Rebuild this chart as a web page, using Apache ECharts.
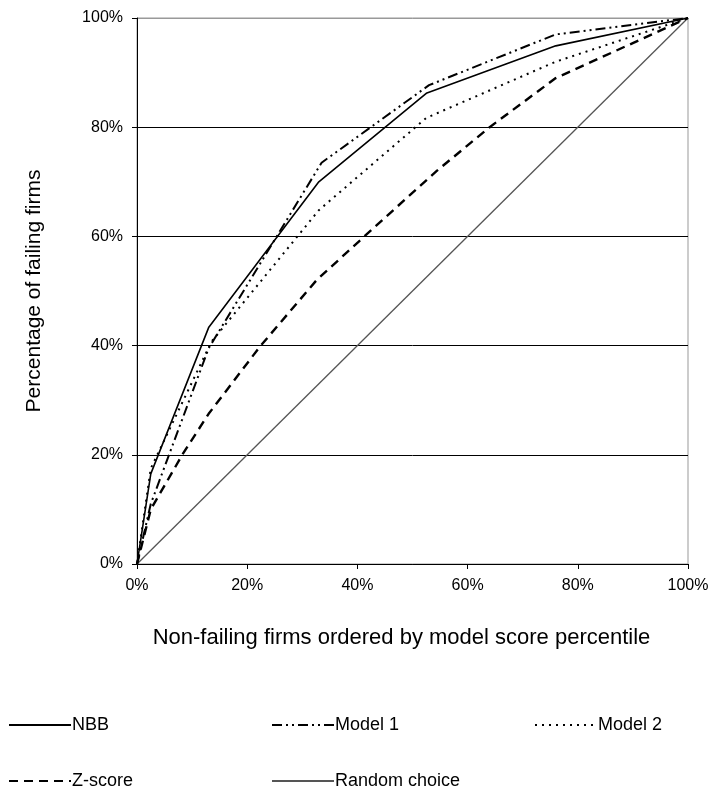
<!DOCTYPE html>
<html>
<head>
<meta charset="utf-8">
<script src="https://cdn.jsdelivr.net/npm/echarts@6/dist/echarts.min.js"></script>
<style>
html,body{margin:0;padding:0;background:#fff;}
#chart{width:717px;height:791px;}
</style>
</head>
<body>
<div id="chart"></div>
<script>
// ---- data (x = % non-failing firms, y = % failing firms) ----
var xTicks = [0, 20, 40, 60, 80, 100];
var yTicks = [0, 20, 40, 60, 80, 100];

var nbbX = [0, 2.5, 13, 33, 52.5, 76, 100];
var nbbY = [0, 16.5, 43.3, 70, 86.2, 94.9, 100];

var model1X = [0, 2.5, 13, 33.5, 53, 76, 100];
var model1Y = [0, 11, 39.5, 73.5, 87.7, 97, 100];

var model2X = [0, 2.5, 13.5, 33, 52.5, 76, 100];
var model2Y = [0, 17.5, 40.7, 64.8, 81.7, 92, 100];

var zX = [0, 2.5, 8.4, 13, 22.3, 32.6, 43, 54.4, 64, 76, 100];
var zY = [0, 10, 20.3, 27.5, 39.8, 52, 61.6, 72, 80, 89, 100];

var randX = [0, 100];
var randY = [0, 100];

function pairs(xs, ys) { return xs.map(function (x, i) { return [x, ys[i]]; }); }

var FONT = 'Liberation Sans';
var chart = echarts.init(document.getElementById('chart'), null, { renderer: 'canvas' });

function lineSeries(name, xs, ys, style) {
  return {
    name: name, type: 'line', data: pairs(xs, ys),
    symbol: 'none', showSymbol: false, animation: false, silent: true,
    itemStyle: { color: '#000' },
    lineStyle: style, z: name === 'Random choice' ? 1 : 3
  };
}

function legendAt(name, left, top) {
  return {
    data: [name], left: left, top: top, orient: 'horizontal',
    itemWidth: 62, itemHeight: 14, padding: 0, itemGap: 0,
    selectedMode: false,
    itemStyle: { opacity: 0 },
    textStyle: { fontFamily: FONT, fontSize: 18, color: '#000', padding: [0, 0, 0, -4] }
  };
}

var option = {
  backgroundColor: '#fff',
  animation: false,
  grid: { left: 137, right: 29, top: 18, bottom: 227, show: true, borderColor: '#999', borderWidth: 1, containLabel: false },
  xAxis: {
    type: 'value', min: 0, max: 100, interval: 20,
    name: 'Non-failing firms ordered by model score percentile',
    nameLocation: 'middle', nameGap: 63,
    nameTextStyle: { fontFamily: FONT, fontSize: 22, color: '#000', padding: [0, 22, 0, 0] },
    axisLine: { show: true, lineStyle: { color: '#000', width: 1 } },
    axisTick: { show: true, length: 5, inside: false, lineStyle: { color: '#000' } },
    axisLabel: { fontFamily: FONT, fontSize: 16, color: '#000', margin: 14,
      formatter: function (v) { return v + '%'; } },
    splitLine: { show: false }
  },
  yAxis: {
    type: 'value', min: 0, max: 100, interval: 20,
    name: 'Percentage of failing firms',
    nameLocation: 'middle', nameGap: 92, nameRotate: 90,
    nameTextStyle: { fontFamily: FONT, fontSize: 21, color: '#000' },
    axisLine: { show: true, lineStyle: { color: '#000', width: 1 } },
    axisTick: { show: true, length: 5, inside: false, lineStyle: { color: '#000' } },
    axisLabel: { fontFamily: FONT, fontSize: 16, color: '#000', margin: 14,
      formatter: function (v) { return v + '%'; } },
    splitLine: { show: true, lineStyle: { color: ['#000', '#000', '#000', '#000', '#000', '#999'], width: 1 } }
  },
  legend: [
    legendAt('NBB', 8, 716),
    legendAt('Model 1', 271, 716),
    legendAt('Model 2', 534, 716),
    legendAt('Z-score', 8, 772),
    legendAt('Random choice', 271, 772)
  ],
  series: [
    lineSeries('NBB', nbbX, nbbY, { color: '#000', width: 1.6, type: 'solid' }),
    lineSeries('Model 1', model1X, model1Y, { color: '#000', width: 2, type: [10, 4, 2, 4, 2, 4] }),
    lineSeries('Model 2', model2X, model2Y, { color: '#000', width: 2, type: [2, 5] }),
    lineSeries('Z-score', zX, zY, { color: '#000', width: 2.4, type: [9, 6] }),
    lineSeries('Random choice', randX, randY, { color: '#555', width: 1.3, type: 'solid' })
  ]
};
chart.setOption(option);
</script>
</body>
</html>
